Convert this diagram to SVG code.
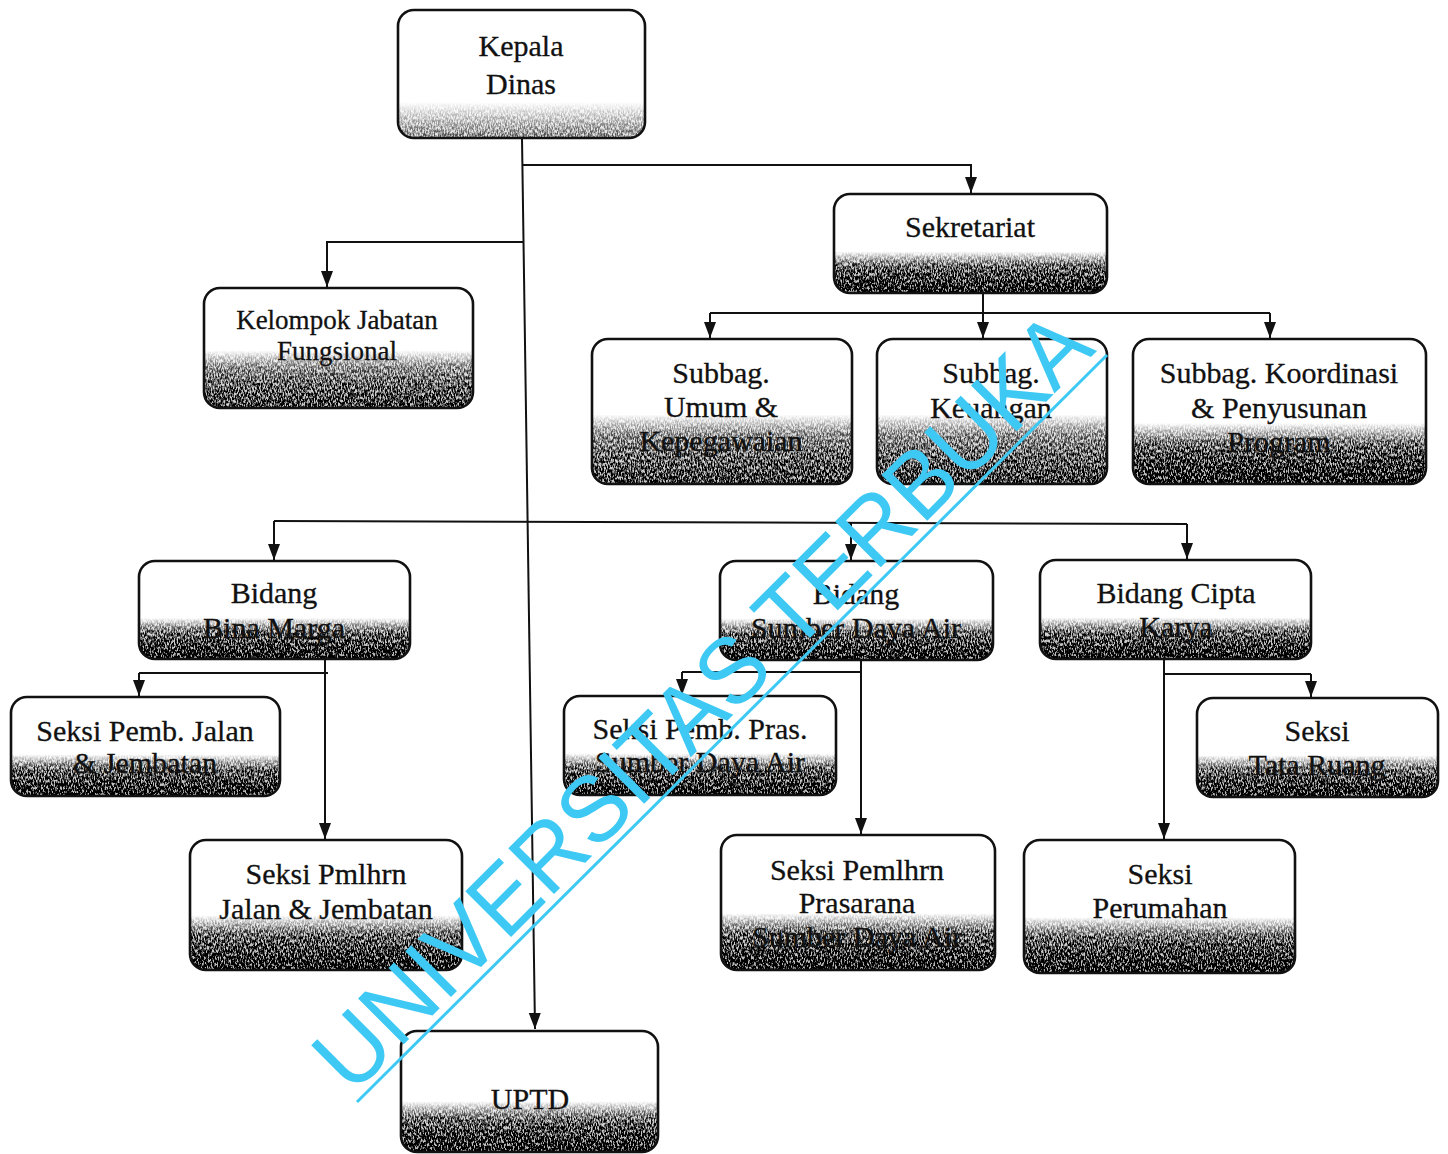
<svg xmlns="http://www.w3.org/2000/svg" width="1448" height="1154" viewBox="0 0 1448 1154">
<defs>
<style>
.bg{fill:#ffffff;stroke:none}
.box{fill:none;stroke:#111;stroke-width:2.6}
.shade{fill:url(#shd);filter:url(#grain)}
.shadeL{fill:url(#shdL);filter:url(#grain)}
.shadeM{fill:url(#shdM);filter:url(#grain)}
.t{font-family:"Liberation Serif","Times New Roman",serif;font-size:30px;fill:#111;stroke:#111;stroke-width:0.3;text-anchor:middle}
.ts{font-size:27px}
.c{fill:none;stroke:#111;stroke-width:2}
.wm{font-family:"Liberation Sans",Arial,sans-serif;font-size:94px;fill:#3ec9f5}
</style>
<linearGradient id="shd" x1="0" y1="0" x2="0" y2="1">
<stop offset="0" stop-color="#000" stop-opacity="0"/>
<stop offset="0.58" stop-color="#000" stop-opacity="0"/>
<stop offset="0.72" stop-color="#000" stop-opacity="0.5"/>
<stop offset="1" stop-color="#000" stop-opacity="1"/>
</linearGradient>
<linearGradient id="shdM" x1="0" y1="0" x2="0" y2="1">
<stop offset="0" stop-color="#000" stop-opacity="0"/>
<stop offset="0.52" stop-color="#000" stop-opacity="0"/>
<stop offset="0.66" stop-color="#000" stop-opacity="0.38"/>
<stop offset="1" stop-color="#000" stop-opacity="0.75"/>
</linearGradient>
<linearGradient id="shdL" x1="0" y1="0" x2="0" y2="1">
<stop offset="0" stop-color="#000" stop-opacity="0"/>
<stop offset="0.72" stop-color="#000" stop-opacity="0"/>
<stop offset="1" stop-color="#000" stop-opacity="0.4"/>
</linearGradient>
<filter id="grain" x="0" y="0" width="1" height="1" color-interpolation-filters="sRGB">
<feTurbulence type="fractalNoise" baseFrequency="0.7 0.3" numOctaves="3" seed="7" result="noise"/>
<feColorMatrix in="noise" type="matrix" values="0 0 0 0 0  0 0 0 0 0  0 0 0 0 0  3 0 0 0 -1" result="mask"/>
<feComposite in="SourceGraphic" in2="mask" operator="arithmetic" k1="1.6" k2="0.3" k3="0" k4="0"/>
</filter>
<marker id="arr" markerUnits="userSpaceOnUse" markerWidth="16" markerHeight="14" viewBox="0 0 16 12" refX="16" refY="6" orient="auto">
<path d="M0,0 L16,6 L0,12 z" fill="#111"/>
</marker>
</defs>
<rect width="1448" height="1154" fill="#fff"/>

<g id="connectors">
<path class="c" d="M522,138 L535,1029" marker-end="url(#arr)"/>
<path class="c" d="M522,165 L971,165 L971,193" marker-end="url(#arr)"/>
<path class="c" d="M524,242 L327,242 L327,287" marker-end="url(#arr)"/>
<path class="c" d="M983,293 L983,338" marker-end="url(#arr)"/>
<path class="c" d="M710,313 L1270,313"/>
<path class="c" d="M710,313 L710,338" marker-end="url(#arr)"/>
<path class="c" d="M1270,313 L1270,338" marker-end="url(#arr)"/>
<path class="c" d="M274,521 L1187,524"/>
<path class="c" d="M274,521 L274,560" marker-end="url(#arr)"/>
<path class="c" d="M851,523 L851,560" marker-end="url(#arr)"/>
<path class="c" d="M1187,524 L1187,559" marker-end="url(#arr)"/>
<path class="c" d="M325,659 L325,839" marker-end="url(#arr)"/>
<path class="c" d="M139,673 L328,673"/>
<path class="c" d="M139,673 L139,696" marker-end="url(#arr)"/>
<path class="c" d="M861,660 L861,834" marker-end="url(#arr)"/>
<path class="c" d="M682,672 L861,672"/>
<path class="c" d="M682,672 L682,695" marker-end="url(#arr)"/>
<path class="c" d="M1164,659 L1164,839" marker-end="url(#arr)"/>
<path class="c" d="M1164,674 L1311,674"/>
<path class="c" d="M1311,674 L1311,697" marker-end="url(#arr)"/>
</g>

<g id="kepala-dinas">
<rect class="bg" x="398" y="10" width="247" height="128" rx="16"/>
<rect class="shadeL" x="398" y="10" width="247" height="128" rx="16"/>
<rect class="box" x="398" y="10" width="247" height="128" rx="16"/>
<text class="t" x="521" y="56">Kepala</text>
<text class="t" x="521" y="94">Dinas</text>
</g>

<g id="sekretariat">
<rect class="bg" x="834" y="194" width="273" height="99" rx="16"/>
<rect class="shade" x="834" y="194" width="273" height="99" rx="16"/>
<rect class="box" x="834" y="194" width="273" height="99" rx="16"/>
<text class="t" x="970" y="237">Sekretariat</text>
</g>

<g id="kelompok-jabatan-fungsional">
<rect class="bg" x="204" y="288" width="269" height="120" rx="16"/>
<rect class="shadeM" x="204" y="288" width="269" height="120" rx="16"/>
<rect class="box" x="204" y="288" width="269" height="120" rx="16"/>
<text class="t ts" x="337" y="329">Kelompok Jabatan</text>
<text class="t ts" x="337" y="360">Fungsional</text>
</g>

<g id="subbag-umum">
<rect class="bg" x="592" y="339" width="260" height="145" rx="16"/>
<rect class="shadeM" x="592" y="339" width="260" height="145" rx="16"/>
<rect class="box" x="592" y="339" width="260" height="145" rx="16"/>
<text class="t" x="721" y="383">Subbag.</text>
<text class="t" x="721" y="417">Umum &amp;</text>
<text class="t" x="721" y="451">Kepegawaian</text>
</g>

<g id="subbag-keuangan">
<rect class="bg" x="877" y="339" width="230" height="145" rx="16"/>
<rect class="shadeM" x="877" y="339" width="230" height="145" rx="16"/>
<rect class="box" x="877" y="339" width="230" height="145" rx="16"/>
<text class="t" x="991" y="383">Subbag.</text>
<text class="t" x="991" y="418">Keuangan</text>
</g>

<g id="subbag-koordinasi">
<rect class="bg" x="1133" y="339" width="293" height="145" rx="16"/>
<rect class="shade" x="1133" y="339" width="293" height="145" rx="16"/>
<rect class="box" x="1133" y="339" width="293" height="145" rx="16"/>
<text class="t" x="1279" y="383">Subbag. Koordinasi</text>
<text class="t" x="1279" y="418">&amp; Penyusunan</text>
<text class="t" x="1279" y="452">Program</text>
</g>

<g id="bidang-bina-marga">
<rect class="bg" x="139" y="561" width="271" height="98" rx="16"/>
<rect class="shade" x="139" y="561" width="271" height="98" rx="16"/>
<rect class="box" x="139" y="561" width="271" height="98" rx="16"/>
<text class="t" x="274" y="603">Bidang</text>
<text class="t" x="274" y="638">Bina Marga</text>
</g>

<g id="bidang-sda">
<rect class="bg" x="720" y="561" width="273" height="99" rx="16"/>
<rect class="shade" x="720" y="561" width="273" height="99" rx="16"/>
<rect class="box" x="720" y="561" width="273" height="99" rx="16"/>
<text class="t" x="856" y="604">Bidang</text>
<text class="t" x="856" y="638">Sumber Daya Air</text>
</g>

<g id="bidang-cipta-karya">
<rect class="bg" x="1040" y="560" width="271" height="99" rx="16"/>
<rect class="shade" x="1040" y="560" width="271" height="99" rx="16"/>
<rect class="box" x="1040" y="560" width="271" height="99" rx="16"/>
<text class="t" x="1176" y="603">Bidang Cipta</text>
<text class="t" x="1176" y="637">Karya</text>
</g>

<g id="seksi-pemb-jalan">
<rect class="bg" x="11" y="697" width="269" height="99" rx="16"/>
<rect class="shade" x="11" y="697" width="269" height="99" rx="16"/>
<rect class="box" x="11" y="697" width="269" height="99" rx="16"/>
<text class="t" x="145" y="741">Seksi Pemb. Jalan</text>
<text class="t" x="145" y="773">&amp; Jembatan</text>
</g>

<g id="seksi-pemb-pras">
<rect class="bg" x="564" y="696" width="272" height="99" rx="16"/>
<rect class="shade" x="564" y="696" width="272" height="99" rx="16"/>
<rect class="box" x="564" y="696" width="272" height="99" rx="16"/>
<text class="t" x="700" y="739">Seksi Pemb. Pras.</text>
<text class="t" x="700" y="772">Sumber Daya Air</text>
</g>

<g id="seksi-tata-ruang">
<rect class="bg" x="1197" y="698" width="241" height="99" rx="16"/>
<rect class="shade" x="1197" y="698" width="241" height="99" rx="16"/>
<rect class="box" x="1197" y="698" width="241" height="99" rx="16"/>
<text class="t" x="1317" y="741">Seksi</text>
<text class="t" x="1317" y="775">Tata Ruang</text>
</g>

<g id="seksi-pmlhrn-jalan">
<rect class="bg" x="190" y="840" width="272" height="130" rx="16"/>
<rect class="shade" x="190" y="840" width="272" height="130" rx="16"/>
<rect class="box" x="190" y="840" width="272" height="130" rx="16"/>
<text class="t" x="326" y="884">Seksi Pmlhrn</text>
<text class="t" x="326" y="919">Jalan &amp; Jembatan</text>
</g>

<g id="seksi-pemlhrn-sda">
<rect class="bg" x="721" y="835" width="274" height="135" rx="16"/>
<rect class="shade" x="721" y="835" width="274" height="135" rx="16"/>
<rect class="box" x="721" y="835" width="274" height="135" rx="16"/>
<text class="t" x="857" y="880">Seksi Pemlhrn</text>
<text class="t" x="857" y="913">Prasarana</text>
<text class="t" x="857" y="947">Sumber Daya Air</text>
</g>

<g id="seksi-perumahan">
<rect class="bg" x="1024" y="840" width="271" height="133" rx="16"/>
<rect class="shade" x="1024" y="840" width="271" height="133" rx="16"/>
<rect class="box" x="1024" y="840" width="271" height="133" rx="16"/>
<text class="t" x="1160" y="884">Seksi</text>
<text class="t" x="1160" y="918">Perumahan</text>
</g>

<g id="uptd">
<rect class="bg" x="401" y="1031" width="257" height="121" rx="16"/>
<rect class="shade" x="401" y="1031" width="257" height="121" rx="16"/>
<rect class="box" x="401" y="1031" width="257" height="121" rx="16"/>
<text class="t" x="530" y="1109">UPTD</text>
</g>

<g id="watermark">
<text class="wm" x="0" y="0" transform="translate(352,1096) rotate(-45)" textLength="1054" lengthAdjust="spacingAndGlyphs">UNIVERSITAS TERBUKA</text>
<line x1="357" y1="1102" x2="1107" y2="355" stroke="#3ec9f5" stroke-width="3"/>
</g>
</svg>
